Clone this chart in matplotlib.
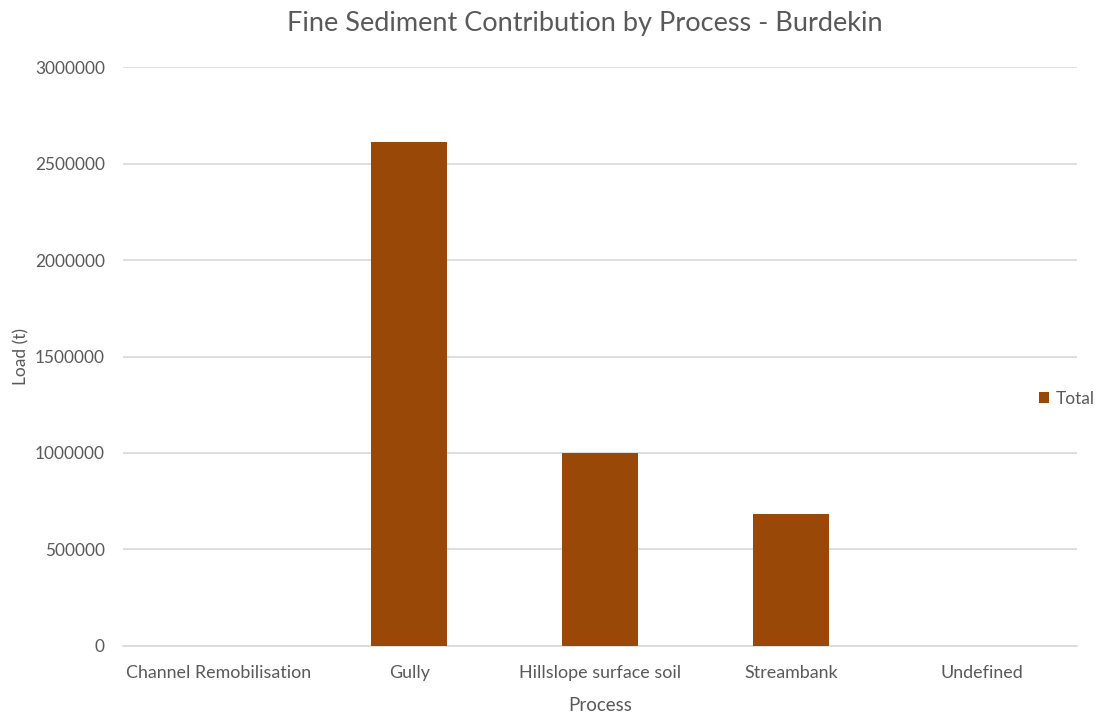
import matplotlib
matplotlib.use("Agg")
import matplotlib.pyplot as plt

# data
processes = ["Channel Remobilisation", "Gully", "Hillslope surface soil", "Streambank", "Undefined"]
load_total = [0, 2611000, 1000000, 684000, 0]
y_ticks = [0, 500000, 1000000, 1500000, 2000000, 2500000, 3000000]

text_col = "#595959"
bar_col = "#994807"
grid_col = "#D9D9D9"

plt.rcParams['font.family'] = ['Lato', 'DejaVu Sans']

fig = plt.figure(figsize=(10.98, 7.16), dpi=100)
ax = fig.add_axes([0.112, 0.098, 0.869, 0.808])

x = range(len(processes))
ax.bar(x, load_total, width=0.4, color=bar_col, label="Total", zorder=3)

ax.set_xlim(-0.5, len(processes) - 0.5)
ax.set_ylim(0, 3000000)
ax.set_yticks(y_ticks)
ax.set_yticklabels([str(v) for v in y_ticks])
ax.set_xticks(list(x))
ax.set_xticklabels(processes)

ax.grid(axis="y", color=grid_col, linewidth=1.2, zorder=0)
for s in ["top", "right", "left"]:
    ax.spines[s].set_visible(False)
ax.spines["bottom"].set_color(grid_col)
ax.spines["bottom"].set_linewidth(1.2)
ax.tick_params(axis="both", length=0, colors=text_col)
ax.tick_params(axis="x", pad=14, labelsize=12.9)
ax.tick_params(axis="y", pad=13, labelsize=12.4)

ax.set_xlabel("Process", color=text_col, fontsize=13.5, labelpad=11)
ax.set_ylabel("Load (t)", color=text_col, fontsize=12.5, labelpad=4)
fig.suptitle("Fine Sediment Contribution by Process - Burdekin", color=text_col,
             fontsize=19.5, x=0.533, y=0.985)

handles, labels = ax.get_legend_handles_labels()
leg = fig.legend(handles, labels, loc="center left", bbox_to_anchor=(0.946, 1 - 399 / 716),
                 frameon=False, handlelength=0.6, handleheight=0.6, handletextpad=0.4,
                 fontsize=12.5, borderaxespad=0, borderpad=0)
for t in leg.get_texts():
    t.set_color(text_col)

fig.savefig("out.png", dpi=100)
